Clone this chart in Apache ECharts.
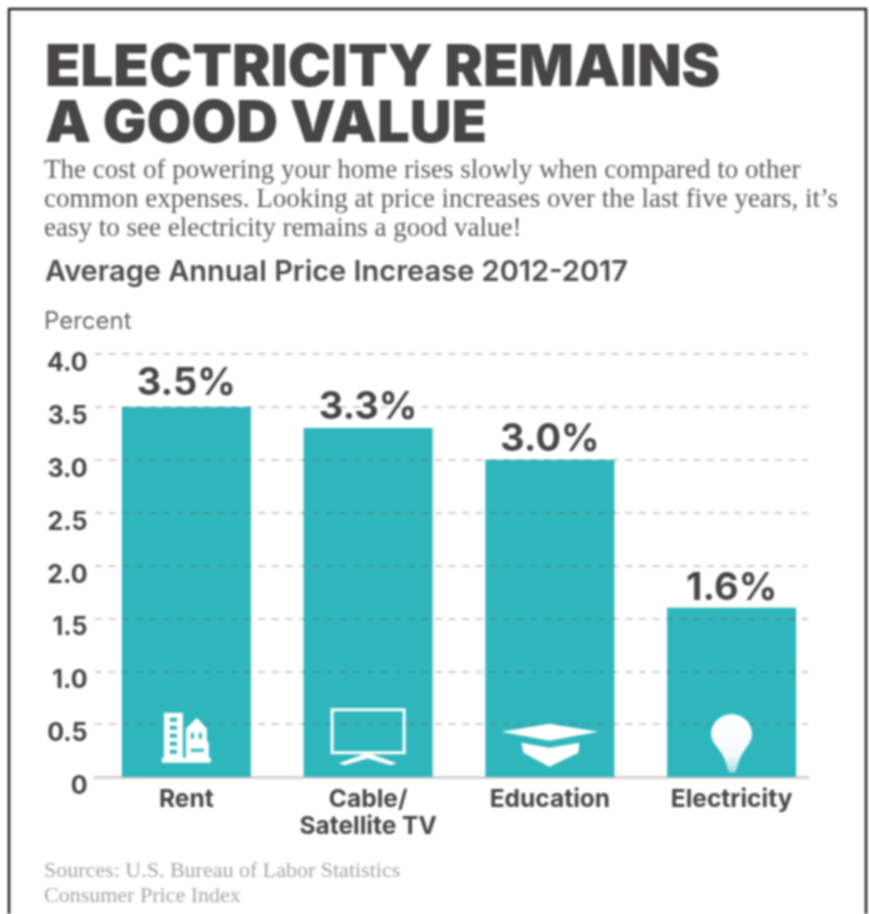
<!DOCTYPE html>
<html>
<head>
<meta charset="utf-8">
<title>Electricity remains a good value</title>
<style>
  html, body { margin: 0; padding: 0; background: #fff; }
  #chart { width: 869px; height: 914px; filter: blur(0.8px); }
</style>
<script src="https://cdn.jsdelivr.net/npm/echarts@6/dist/echarts.min.js"></script>
</head>
<body>
<div id="chart"></div>
<script>
var categories = ['Rent', 'Cable/\nSatellite TV', 'Education', 'Electricity'];
var increases = [3.5, 3.3, 3.0, 1.6];
var iconLevels = [0.37, 0.38, 0.30, 0.32];
var titleLines = ['ELECTRICITY REMAINS', 'A GOOD VALUE'];
var introLines = [
  'The cost of powering your home rises slowly when compared to other',
  'common expenses. Looking at price increases over the last five years, it\u2019s',
  'easy to see electricity remains a good value!'
];
var subtitle = 'Average Annual Price Increase 2012-2017';
var unitLabel = 'Percent';
var sourceLines = ['Sources: U.S. Bureau of Labor Statistics', 'Consumer Price Index'];

var TEAL = '#2fb6bd';
var DARK = '#474545';

// the value labels are hand placed in the original, gap differs per bar
var labelGaps = [4, 1, 1, 0];

// white pictograms sitting inside the bars
var iconPaths = [
  'path://M0 45H2V0H21V45H24V16L35 5L45 16V27L47 31V45H49V50H0Z' +
    'M8 5V9H15V5ZM8 13V17H15V13ZM8 21V25H15V21ZM8 29V33H15V29ZM8 37V41H15V37Z' +
    'M29 20V26H32V20ZM37 20V26H40V20ZM29 36V39H42V36Z',
  'path://M0 0H75V46H41L66 55L60 57L37 50L14 57L8 55L33 46H0Z' +
    'M3 3V43H72V3Z',
  'path://M0 8L48 0L97 8L48 17ZM20 19L48 24L78 19L77 29L48 43L22 29Z',
  'path://M20.5 0C32 0 41 9 41 20C41 29 33 34 29 44L24 58H18L13 44C9 34 0 29 0 20C0 9 9 0 20.5 0Z'
];
var iconSizes = [[49, 50], [75, 57], [97, 43], [41, 58]];

function textBlock(lines, x, top, step, style) {
  return lines.map(function (line, i) {
    return {
      type: 'text',
      x: x,
      y: top + i * step,
      style: Object.assign({ text: line }, style)
    };
  });
}

var chart = echarts.init(document.getElementById('chart'));

var graphics = [{
  type: 'rect',
  shape: { x: 9, y: 9, width: 857, height: 920 },
  style: { fill: 'none', stroke: '#222', lineWidth: 2.5 }
}]
  .concat(textBlock(titleLines, 45, 39.5, 56.5, { font: '900 58px Inter', fill: DARK }))
  .concat(textBlock(introLines, 44, 157.5, 28.8, { font: '27px "Liberation Serif"', fill: '#5f5b5b' }))
  .concat(textBlock([subtitle], 45, 257.5, 0, { font: '600 29px Inter', fill: '#4f4c4c' }))
  .concat(textBlock([unitLabel], 44, 310, 0, { font: '24px Inter', fill: '#6b6767' }))
  .concat(textBlock(sourceLines, 44, 860, 25, { font: '22px "Liberation Serif"', fill: '#a8a4a4' }));

chart.setOption({
  animation: false,
  backgroundColor: '#fff',
  graphic: graphics,
  grid: [
    { left: 95.5, right: 46.5, top: 354, height: 423 },
    { left: 95, right: 61, top: 354, height: 423 }
  ],
  xAxis: [{
    type: 'category',
    data: categories,
    axisLine: { show: false },
    axisTick: { show: false },
    axisLabel: {
      margin: 9.5,
      lineHeight: 27,
      verticalAlign: 'top',
      fontFamily: 'Inter',
      fontWeight: 700,
      fontSize: 24.5,
      color: DARK
    }
  }, {
    // only here for the shorter baseline
    gridIndex: 1,
    type: 'value',
    min: 0,
    max: 1,
    axisLine: { show: true, onZero: true, lineStyle: { color: '#d6d2ce', width: 3 } },
    axisTick: { show: false },
    axisLabel: { show: false },
    splitLine: { show: false }
  }],
  yAxis: [{
    type: 'value',
    min: 0,
    max: 4,
    interval: 0.5,
    axisLine: { show: false },
    axisTick: { show: false },
    splitLine: { show: false },
    axisLabel: {
      margin: 8,
      verticalAlign: 'top',
      lineHeight: 19,
      fontFamily: 'Inter',
      fontWeight: 700,
      fontSize: 25,
      color: DARK,
      formatter: function (v) { return v === 0 ? '0' : v.toFixed(1); }
    }
  }, {
    // dashed rules drawn over the bars
    gridIndex: 1,
    type: 'value',
    min: 0,
    max: 4,
    interval: 0.5,
    z: 3,
    axisLine: { show: false },
    axisTick: { show: false },
    axisLabel: { show: false },
    splitLine: {
      show: true,
      showMinLine: false,
      lineStyle: { type: [7, 6.6], width: 1.8, color: 'rgba(110,85,85,0.3)' }
    }
  }],
  series: [{
    type: 'bar',
    barWidth: 129,
    itemStyle: { color: TEAL },
    data: increases.map(function (v, i) {
      return { value: v, label: { distance: labelGaps[i] } };
    }),
    label: {
      show: true,
      position: 'top',
      fontFamily: 'Inter',
      fontWeight: 700,
      fontSize: 38,
      color: DARK,
      formatter: function (p) { return p.value.toFixed(1) + '%'; }
    }
  }, {
    type: 'scatter',
    z: 4,
    silent: true,
    data: iconLevels.map(function (level, i) {
      return {
        value: [i, level],
        symbol: iconPaths[i],
        symbolSize: iconSizes[i],
        itemStyle: {
          color: i === 3
            ? new echarts.graphic.LinearGradient(0, 0, 0, 1, [
                { offset: 0, color: '#fff' },
                { offset: 0.7, color: '#f4fbfb' },
                { offset: 1, color: '#a6dfe2' }
              ])
            : '#fff',
          opacity: 1
        }
      };
    })
  }]
});
</script>
</body>
</html>
